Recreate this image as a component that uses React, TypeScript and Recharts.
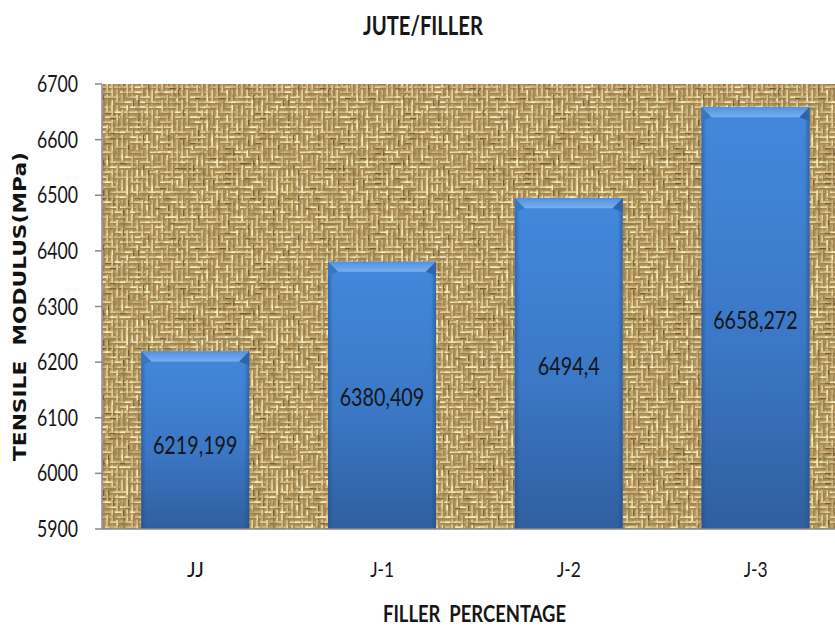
import React from 'react';
import { BarChart, Bar, XAxis, YAxis, CartesianGrid, LabelList } from 'recharts';

const categories = ['JJ', 'J-1', 'J-2', 'J-3'];
const modulus = [6219.199, 6380.409, 6494.4, 6658.272];
const modulusLabels = ['6219,199', '6380,409', '6494,4', '6658,272'];
const yTicks = [5900, 6000, 6100, 6200, 6300, 6400, 6500, 6600, 6700];

const data = categories.map((name, i) => ({ name, modulus: modulus[i], label: modulusLabels[i] }));

const FONT = 'Lato, "Liberation Sans", sans-serif';

// text squeezed to a given width, the reference font is very condensed
function FitText({ x, y, width, size, bold, anchor, children }: any) {
  return (
    <text
      x={x}
      y={y}
      textLength={width}
      lengthAdjust="spacingAndGlyphs"
      textAnchor={anchor || 'middle'}
      fontFamily={FONT}
      fontSize={size}
      fontWeight={bold ? 700 : 400}
      fill="#161616"
      xmlSpace="preserve"
    >
      {children}
    </text>
  );
}

function YTick({ y, payload }: any) {
  return <FitText x={78} y={y + 8} width={41} size={23} anchor="end">{payload.value}</FitText>;
}

function XTick({ x, payload }: any) {
  return <FitText x={x} y={577} width={payload.value.length > 2 ? 24 : 17} size={22}>{payload.value}</FitText>;
}

function BarValue({ x, y, width, height, value, index }: any) {
  const text = String(value);
  const commas = text.split(',').length - 1;
  const w = (text.length - commas) * 11.3 + commas * 5.5;
  const nudge = index === 0 ? 4 : 1;
  return <FitText x={x + width / 2} y={y + height / 2 + 10 + nudge} width={w} size={25}>{text}</FitText>;
}

// irregular weave, only the background texture
function WeaveTile() {
  const cell = 5;
  const n = 30;
  const threads = [];
  for (let row = 0; row < n; row++) {
    for (let col = 0; col < n; col++) {
      const h = (((row * 73856093) ^ (col * 19349663)) >>> 0) % 97;
      const block = (Math.floor(row / 6) + Math.floor(col / 6)) % 2;
      const turned = (block ? col + row : col - row + n) % 4;
      const across = h < 12 ? turned >= 2 : turned < 2;
      const x = col * cell;
      const y = row * cell;
      const light = h < 22 ? '#f8ecbd' : h < 60 ? '#e7d29b' : '#d2b982';
      const len = h % 3 === 0 ? cell * 3 : h % 3 === 1 ? cell * 2 : cell + 2;
      const shade = h > 88 ? '#4a3514' : '#8a6f3c';
      threads.push(
        across ? (
          <g key={`${row}-${col}`}>
            <rect x={x} y={y + 3.2} width={len} height={1} fill={shade} />
            <rect x={x} y={y + 1.4} width={len} height={1.8} fill={light} />
          </g>
        ) : (
          <g key={`${row}-${col}`}>
            <rect x={x + 3.2} y={y} width={1} height={len} fill={shade} />
            <rect x={x + 1.4} y={y} width={1.8} height={len} fill={light} />
          </g>
        ),
      );
    }
  }
  return <g filter="url(#soften)">{threads}</g>;
}

function BevelBar({ x, y, width, height }: any) {
  const b = 10;
  return (
    <g>
      <rect x={x} y={y} width={width} height={height} fill="url(#barFill)" />
      <rect x={x} y={y} width={5} height={height} fill="url(#edgeLeft)" />
      <rect x={x + width - 5} y={y} width={5} height={height} fill="url(#edgeRight)" />
      <polygon points={`${x},${y} ${x + width},${y} ${x + width - b},${y + b} ${x + b},${y + b}`} fill="url(#bevelTop)" />
      <polygon points={`${x},${y} ${x + b},${y + b} ${x},${y + b + 4}`} fill="#3a76bd" />
      <polygon points={`${x + width},${y} ${x + width - b},${y + b} ${x + width},${y + b + 4}`} fill="#2f65a8" />
    </g>
  );
}

export default function App() {
  return (
    <div style={{ position: 'absolute', left: 0, top: 0, width: 835, height: 626, overflow: 'hidden', background: '#fff' }}>
      <BarChart width={849} height={626} data={data} barCategoryGap="21%" margin={{ top: 84, right: 0, bottom: 0, left: 0 }}>
        <defs>
          <filter id="soften" x="0" y="0" width="100%" height="100%">
            <feGaussianBlur stdDeviation="0.5" />
          </filter>
          <filter id="mottle" x="0" y="0" width="100%" height="100%">
            <feTurbulence type="fractalNoise" baseFrequency="0.14" numOctaves="2" seed="7" stitchTiles="stitch" />
            <feColorMatrix values="0 0 0 0 0.30  0 0 0 0 0.20  0 0 0 0 0.07  1.8 0 0 0 -0.8" />
          </filter>
          <pattern id="burlap" patternUnits="userSpaceOnUse" width={150} height={150}>
            <rect width={150} height={150} fill="#b89a61" />
            <WeaveTile />
            <rect width={150} height={150} filter="url(#mottle)" />
          </pattern>
          <linearGradient id="barFill" x1="0" y1="0" x2="0" y2="1">
            <stop offset="0%" stopColor="#4388dc" />
            <stop offset="55%" stopColor="#3b78c6" />
            <stop offset="100%" stopColor="#2f5f9f" />
          </linearGradient>
          <linearGradient id="edgeLeft" x1="0" y1="0" x2="1" y2="0">
            <stop offset="0%" stopColor="#1f4a80" stopOpacity={0.5} />
            <stop offset="100%" stopColor="#1f4a80" stopOpacity={0} />
          </linearGradient>
          <linearGradient id="edgeRight" x1="0" y1="0" x2="1" y2="0">
            <stop offset="0%" stopColor="#1f4a80" stopOpacity={0} />
            <stop offset="100%" stopColor="#1f4a80" stopOpacity={0.55} />
          </linearGradient>
          <linearGradient id="bevelTop" x1="0" y1="0" x2="0" y2="1">
            <stop offset="0%" stopColor="#4f92e2" />
            <stop offset="100%" stopColor="#79b0ec" />
          </linearGradient>
        </defs>
        <CartesianGrid horizontal={false} vertical={false} fill="url(#burlap)" />
        <XAxis
          dataKey="name"
          height={97}
          interval={0}
          tickLine={false}
          axisLine={{ stroke: '#8a8a8a', strokeWidth: 1.5 }}
          tick={<XTick />}
        />
        <YAxis
          width={102}
          domain={[5900, 6700]}
          ticks={yTicks}
          interval={0}
          tickSize={7}
          axisLine={{ stroke: '#8a8a8a', strokeWidth: 1.5 }}
          tickLine={{ stroke: '#8a8a8a', strokeWidth: 1.5 }}
          tick={<YTick />}
        />
        <Bar dataKey="modulus" shape={<BevelBar />} isAnimationActive={false}>
          <LabelList dataKey="label" content={<BarValue />} />
        </Bar>
        <FitText x={423} y={35} width={120} size={27} bold>JUTE/FILLER</FitText>
        <FitText x={474.5} y={622} width={183} size={22} bold>FILLER  PERCENTAGE</FitText>
        <text
          transform="translate(26,306.5) rotate(-90)"
          textAnchor="middle"
          textLength={309}
          lengthAdjust="spacingAndGlyphs"
          fontFamily='"DejaVu Sans", sans-serif'
          fontWeight={700}
          fontSize={18}
          fill="#111"
          xmlSpace="preserve"
        >
          TENSILE  MODULUS(MPa)
        </text>
      </BarChart>
    </div>
  );
}
